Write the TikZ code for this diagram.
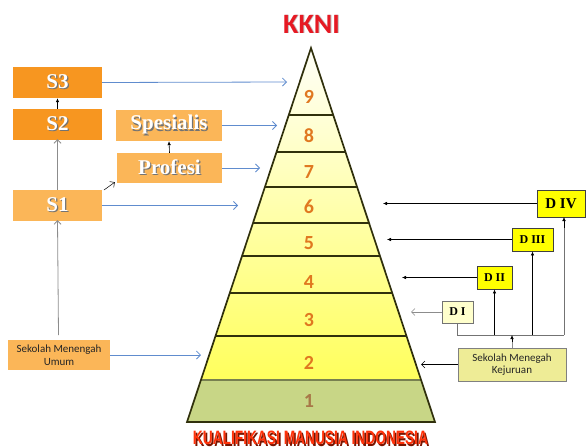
\documentclass[tikz,border=0pt]{standalone}
\usepackage{fontspec}
\setmainfont{Liberation Serif}
\newfontfamily\calfont{Carlito}
\newfontfamily\arialfont{Liberation Sans}
\usetikzlibrary{arrows.meta}
\definecolor{darkor}{RGB}{247,150,32}
\definecolor{lightor}{RGB}{251,182,88}
\definecolor{arrblue}{RGB}{96,140,206}
\definecolor{pyrline}{RGB}{48,48,12}
\definecolor{bandone}{RGB}{200,214,134}
\definecolor{numor}{RGB}{224,120,32}
\definecolor{numbr}{RGB}{168,120,72}
\definecolor{dyellow}{RGB}{255,255,0}
\definecolor{dpale}{RGB}{255,255,204}
\definecolor{smkfill}{RGB}{238,236,150}
\definecolor{kkred}{RGB}{230,25,35}
\definecolor{titlered}{RGB}{255,50,10}
\definecolor{titleshadow}{RGB}{120,20,0}
\newcommand\shadowed[1]{\makebox[0pt][l]{\hspace{1.2pt}\raisebox{-1.2pt}{\textcolor{black!55}{#1}}}#1}
\newcommand\tshadow[1]{\makebox[0pt][l]{\hspace{1.2pt}\raisebox{-1.2pt}{\textcolor{titleshadow}{#1}}}\textcolor{titlered}{#1}}
\tikzset{
  obox/.style={inner sep=0pt, text=white, font=\bfseries\fontsize{21}{21}\selectfont},
  sbox/.style={obox, fill=darkor},
  lbox/.style={obox, fill=lightor},
  dbox/.style={inner sep=0pt, draw=black!75, line width=0.8pt, fill=dyellow, font=\bfseries\fontsize{12}{12}\selectfont},
  txtbox/.style={inner sep=0pt, align=center, font=\calfont\fontsize{11}{12.5}\selectfont, text=black!85},
  bluearr/.style={draw=arrblue, line width=0.8pt, -{Straight Barb[length=4pt,width=8pt]}},
  blkarr/.style={draw=black, line width=0.6pt, -{Latex[length=4pt,width=3.5pt]}},
  grayarr/.style={draw=black!45, line width=0.8pt, -{Straight Barb[length=3.5pt,width=7pt]}},
  blkbarb/.style={draw=black, line width=0.6pt, -{Straight Barb[length=3.5pt,width=7pt]}},
  num/.style={font=\calfont\bfseries\fontsize{20}{20}\selectfont, text=numor, inner sep=0pt},
  bandline/.style={draw=pyrline, line width=1.2pt},
}
\begin{document}
\begin{tikzpicture}[x=1pt,y=-1pt]
\useasboundingbox (0,0) rectangle (587,447);
% pyramid
\coordinate (apex) at (311,48);
\coordinate (bl) at (187,422);
\coordinate (br) at (435,422);
\fill[bandone] (200.9,380) -- (421.1,380) -- (br) -- (bl) -- cycle;
\shade[top color={rgb,255:red,255;green,255;blue,248}, bottom color={rgb,255:red,255;green,255;blue,92}]
  (apex) -- (421.1,380) -- (200.9,380) -- cycle;
\foreach \yy in {115,152,187,223,256,293,336}
  \draw[bandline] ({311-0.33155*(\yy-48)},\yy) -- ({311+0.33155*(\yy-48)},\yy);
\draw[draw={rgb,255:red,120;green,128;blue,80}, line width=1.2pt] (200.9,380) -- (421.1,380);
\draw[pyrline, line width=1.7pt, line join=miter] (apex) -- (br) -- (bl) -- cycle;
% numbers
\node[num] (n9) at (309,97) {9};
\node[num] (n8) at (309,136) {8};
\node[num] (n7) at (309,172) {7};
\node[num] (n6) at (309,207) {6};
\node[num] (n5) at (309,243) {5};
\node[num] (n4) at (309,282) {4};
\node[num] (n3) at (309,320) {3};
\node[num] (n2) at (309,363) {2};
\node[num, text=numbr] (n1) at (309,401) {1};
% titles
\node[font=\calfont\bfseries\fontsize{28}{28}\selectfont, inner sep=0pt, anchor=base] (kkni) at (311.5,33)
  {\makebox[0pt][l]{\hspace{1pt}\raisebox{-1pt}{\textcolor{black!25}{KKNI}}}\textcolor{kkred}{KKNI}};
\node[inner sep=0pt, anchor=base] (kmi) at (310.5,444)
  {\resizebox{235pt}{13.5pt}{\arialfont\bfseries\tshadow{KUALIFIKASI MANUSIA INDONESIA}}};
% left boxes
\node[sbox, minimum width=89pt, minimum height=31pt] (S3) at (57.5,82.5) {\shadowed{S3}};
\node[sbox, minimum width=89pt, minimum height=31pt] (S2) at (57.5,124.5) {\shadowed{S2}};
\node[lbox, minimum width=106pt, minimum height=31pt] (Sp) at (169,125.5) {\shadowed{Spesialis}};
\node[lbox, minimum width=105pt, minimum height=30pt] (Pr) at (169.5,168) {\shadowed{Profesi}};
\node[lbox, minimum width=89pt, minimum height=31pt] (S1) at (57.5,205.5) {\shadowed{S1}};
\node[txtbox, fill=lightor, minimum width=102pt, minimum height=30pt] (SMU) at (59,355) {Sekolah Menengah\\Umum};
% right boxes
\node[dbox, font=\bfseries\fontsize{15}{15}\selectfont, minimum width=48pt, minimum height=27pt] (D4) at (561,203.5) {D IV};
\node[dbox, minimum width=41pt, minimum height=23pt] (D3) at (532.5,239.5) {D III};
\node[dbox, minimum width=35pt, minimum height=23pt] (D2) at (494.5,277.5) {D II};
\node[dbox, fill=dpale, draw=black!55, minimum width=31pt, minimum height=22pt] (D1) at (457.5,312) {D I};
\node[txtbox, fill=smkfill, draw=black!50, line width=0.8pt, minimum width=108pt, minimum height=33pt] (SMK) at (512,364.5) {Sekolah Menegah\\Kejuruan};
% targets on pyramid
\coordinate (t9) at (287,82);
\coordinate (t8) at (277,125.5);
\coordinate (t7) at (260,168);
\coordinate (t6) at (238,205.5);
\coordinate (t2) at (201,355);
\coordinate (r6) at (383,203.5);
\coordinate (r5) at (387,239.5);
\coordinate (r4) at (402,277.5);
\coordinate (r3) at (411,312);
\coordinate (r2) at (421,364.5);
% blue arrows
\draw[bluearr] (S3.east) -- (t9);
\draw[bluearr] (Sp.east) -- (t8);
\draw[bluearr] (Pr.east) -- (t7);
\draw[bluearr] (S1.east) -- (t6);
\draw[bluearr] (SMU.east) -- (t2);
% left vertical arrows
\draw[blkarr] (S2.north) -- (S3.south);
\draw[grayarr] (S1.north) -- ([yshift=1pt]S2.south);
\coordinate (smuTop) at (58.5,335);
\draw[grayarr] (smuTop) -- ([yshift=1pt]S1.south);
\coordinate (s1pr) at (104,190);
\draw[blkbarb, line width=0.5pt] (s1pr) -- ([xshift=-2pt,yshift=1pt]Pr.south west);
\draw[blkarr] (Pr.north) -- (Sp.south);
% right arrows to pyramid
\draw[blkarr, line width=0.5pt] (D4.west) -- (r6);
\draw[blkarr, line width=0.5pt] (D3.west) -- (r5);
\draw[blkarr, line width=0.5pt] (D2.west) -- (r4);
\draw[grayarr, line width=0.6pt] (D1.west) -- (r3);
\draw[blkbarb] (SMK.west) -- (r2);
% bus
\coordinate (busL) at (457.5,335);
\coordinate (bus2) at (494.5,335);
\coordinate (bus3) at (532.5,335);
\coordinate (bus4) at (564,335);
\coordinate (busM) at (512,335);
\draw[black!55, line width=0.7pt] (D1.south) -- (busL) -- (bus4);
\draw[black!55, line width=0.7pt] (bus4) -- (564,228);
\draw[blkarr, line width=0.5pt] (564,228) -- (564,217);
\draw[blkarr] (bus2) -- (D2.south);
\draw[blkarr] (bus3) -- (D3.south);
\draw[black!45, line width=0.8pt] (SMK.north) -- (512,341);
\draw[blkarr] (512,342) -- (busM);
\end{tikzpicture}
\end{document}
